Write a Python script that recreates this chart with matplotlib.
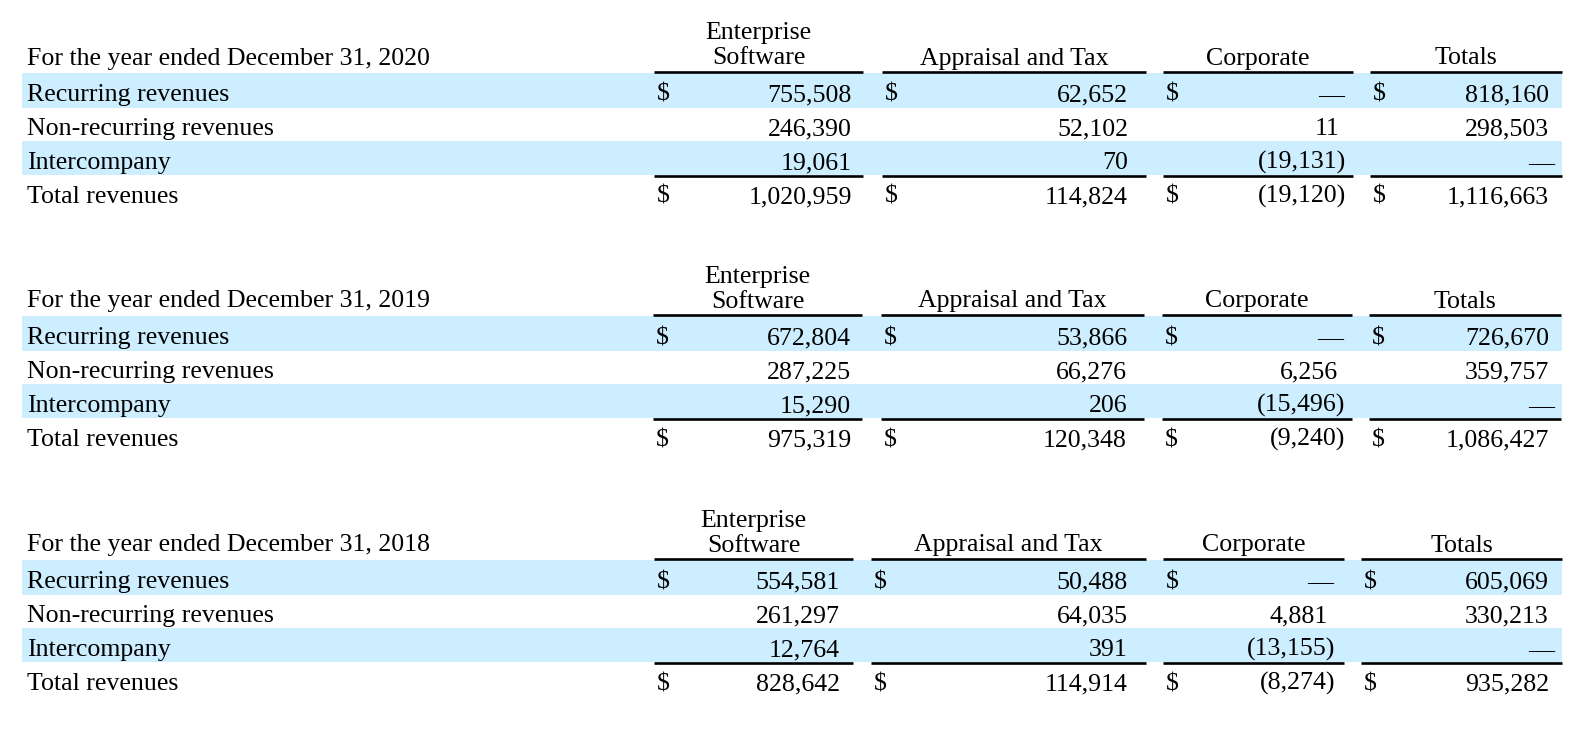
import matplotlib
matplotlib.use("Agg")
import matplotlib.pyplot as plt
from matplotlib.patches import Rectangle

# ---------------- data ----------------
years = ["2020", "2019", "2018"]
segment_headers = [["Enterprise", "Software"], ["Appraisal and Tax"], ["Corporate"], ["Totals"]]
row_labels = ["Recurring revenues", "Non-recurring revenues", "Intercompany", "Total revenues"]
dollar_rows = [True, False, False, True]

# values per table: Enterprise Software, Appraisal and Tax, Corporate, Totals (None = dash)
es_2020 = [755508, 246390, 19061, 1020959]
at_2020 = [62652, 52102, 70, 114824]
corp_2020 = [None, 11, -19131, -19120]
tot_2020 = [818160, 298503, None, 1116663]

es_2019 = [672804, 287225, 15290, 975319]
at_2019 = [53866, 66276, 206, 120348]
corp_2019 = [None, 6256, -15496, -9240]
tot_2019 = [726670, 359757, None, 1086427]

es_2018 = [554581, 261297, 12764, 828642]
at_2018 = [50488, 64035, 391, 114914]
corp_2018 = [None, 4881, -13155, -8274]
tot_2018 = [605069, 330213, None, 935282]

tables = {
    "2020": [es_2020, at_2020, corp_2020, tot_2020],
    "2019": [es_2019, at_2019, corp_2019, tot_2019],
    "2018": [es_2018, at_2018, corp_2018, tot_2018],
}

# ---------------- layout (pixel coordinates) ----------------
W, H = 1580, 740
header_line_y = {"2020": 72, "2019": 315, "2018": 559}
# (line start, line end, number right edge) per column
col_layout = {
    "2020": [(654, 863, 852), (882, 1146, 1128), (1163, 1353, 1339), (1370, 1562, 1549)],
    "2019": [(653, 862, 851), (881, 1144, 1127), (1162, 1352, 1338), (1369, 1561, 1549)],
    "2018": [(654, 853, 840), (871, 1146, 1128), (1163, 1344, 1328), (1361, 1562, 1549)],
}
band_color = "#cceeff"
font = "Liberation Serif"
fs = 18.6
lw = 1.9

fig = plt.figure(figsize=(W / 100, H / 100), dpi=100)
ax = fig.add_axes([0, 0, 1, 1])
ax.set_xlim(0, W)
ax.set_ylim(H, 0)
ax.axis("off")


def txt(x, y, s, ha="left"):
    ax.text(x, y, s, ha=ha, va="baseline", fontsize=fs, family=font, color="black")


for yr in years:
    L = header_line_y[yr]
    cols = col_layout[yr]
    vals = tables[yr]

    # shaded bands
    ax.add_patch(Rectangle((22, L + 1), 1540, 34.5, facecolor=band_color, edgecolor="none", zorder=0))
    ax.add_patch(Rectangle((22, L + 69), 1540, 33.5, facecolor=band_color, edgecolor="none", zorder=0))

    # title row
    txt(27, L - 7.5, f"For the year ended December 31, {yr}")

    for ci, (x0, x1, xr) in enumerate(cols):
        # header lines
        ax.plot([x0, x1], [L, L], color="black", lw=lw, solid_capstyle="butt", zorder=3)
        ax.plot([x0, x1], [L + 103.5, L + 103.5], color="black", lw=lw, solid_capstyle="butt", zorder=3)
        # header text centred on line span
        hdr = segment_headers[ci]
        xc = (x0 + x1) / 2
        if len(hdr) == 2:
            txt(xc, L - 32.5, hdr[0], ha="center")
            txt(xc, L - 7.5, hdr[1], ha="center")
        else:
            txt(xc, L - 7.5, hdr[0], ha="center")

    row_base = [L + 29, L + 63, L + 97, L + 131]
    for ri, lab in enumerate(row_labels):
        yb = row_base[ri]
        txt(27, yb, lab)
        for ci, (x0, x1, xr) in enumerate(cols):
            v = vals[ci][ri]
            if dollar_rows[ri]:
                txt(x0 + 3, yb, "$")
            if v is None:
                txt(xr + 5, yb, "\u2014", ha="right")
            elif v < 0:
                txt(xr + 7, yb, f"({-v:,})", ha="right")
            else:
                txt(xr, yb, f"{v:,}", ha="right")

fig.savefig("out.png", dpi=100, facecolor="white")
